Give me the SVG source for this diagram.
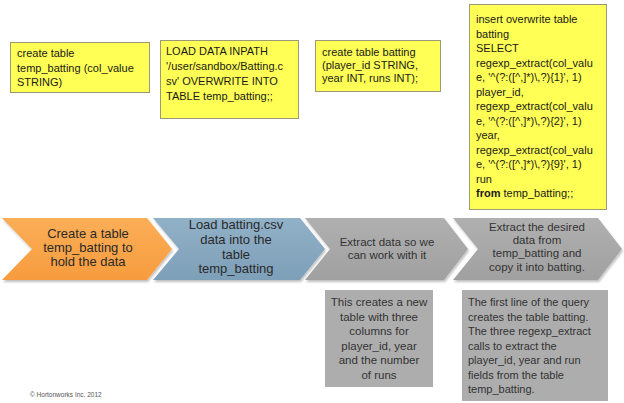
<svg xmlns="http://www.w3.org/2000/svg" width="624" height="403" viewBox="0 0 624 403">
<defs>
<style>
.y{fill:#FFFF55;stroke:#9a9a78;stroke-width:1}
.g{fill:#ADADAD}
.yt{font-family:"Liberation Sans",Arial,sans-serif;font-size:11px;fill:#1a1a1a}
.ct{font-family:"Liberation Sans",Arial,sans-serif;font-size:13px;fill:#2a2a2a;text-anchor:middle}
.gt{font-family:"Liberation Sans",Arial,sans-serif;font-size:11.5px;fill:#333;text-anchor:middle}
.bt{font-family:"Liberation Sans",Arial,sans-serif;font-size:11px;fill:#333}
</style>
<linearGradient id="go" x1="0" y1="0" x2="0" y2="1"><stop offset="0" stop-color="#FBAE58"/><stop offset="1" stop-color="#F79C3E"/></linearGradient>
<linearGradient id="gb" x1="0" y1="0" x2="0" y2="1"><stop offset="0" stop-color="#91B1C8"/><stop offset="1" stop-color="#7E9FB8"/></linearGradient>
<linearGradient id="gg" x1="0" y1="0" x2="0" y2="1"><stop offset="0" stop-color="#B0B0B0"/><stop offset="1" stop-color="#A0A0A0"/></linearGradient>
<filter id="sh" x="-5%" y="-10%" width="115%" height="130%"><feDropShadow dx="1" dy="2" stdDeviation="1.2" flood-color="#000" flood-opacity="0.25"/></filter>
</defs>
<rect width="624" height="403" fill="#fff"/>
<g id="sql1">
<rect class="y" x="10.5" y="42.5" width="139" height="50"/>
<text class="yt" x="17" y="57">create table</text>
<text class="yt" x="17" y="72">temp_batting (col_value</text>
<text class="yt" x="17" y="86">STRING)</text>
</g>
<g id="sql2">
<rect class="y" x="160.5" y="40.5" width="138" height="78"/>
<text class="yt" x="166" y="55">LOAD DATA INPATH</text>
<text class="yt" x="166" y="70">'/user/sandbox/Batting.c</text>
<text class="yt" x="166" y="85">sv' OVERWRITE INTO</text>
<text class="yt" x="166" y="100">TABLE temp_batting;;</text>
</g>
<g id="sql3">
<rect class="y" x="315.5" y="40.5" width="125" height="51"/>
<text class="yt" x="322" y="56">create table batting</text>
<text class="yt" x="322" y="69">(player_id STRING,</text>
<text class="yt" x="322" y="82">year INT, runs INT);</text>
</g>
<g id="sql4">
<rect class="y" x="469.5" y="4.5" width="137" height="205"/>
<text class="yt" x="476" y="23">insert overwrite table</text>
<text class="yt" x="476" y="37.5">batting</text>
<text class="yt" x="476" y="52">SELECT</text>
<text class="yt" x="476" y="66.5">regexp_extract(col_valu</text>
<text class="yt" x="476" y="81">e, '^(?:([^,]*)\,?){1}', 1)</text>
<text class="yt" x="476" y="95.5">player_id,</text>
<text class="yt" x="476" y="110">regexp_extract(col_valu</text>
<text class="yt" x="476" y="124.5">e, '^(?:([^,]*)\,?){2}', 1)</text>
<text class="yt" x="476" y="139">year,</text>
<text class="yt" x="476" y="153.5">regexp_extract(col_valu</text>
<text class="yt" x="476" y="168">e, '^(?:([^,]*)\,?){9}', 1)</text>
<text class="yt" x="476" y="182.5">run</text>
<text class="yt" x="476" y="197"><tspan font-weight="bold">from</tspan> temp_batting;;</text>
</g>
<g id="step1">
<polygon points="2,218 147,218 172,249 147,280 2,280 32,249" fill="url(#go)" filter="url(#sh)"/>
<text class="ct" x="88" y="238">Create a table</text>
<text class="ct" x="88" y="252">temp_batting to</text>
<text class="ct" x="88" y="266">hold the data</text>
</g>
<g id="step2">
<polygon points="153,218 300,218 325,249 300,280 153,280 179,249" fill="url(#gb)" filter="url(#sh)"/>
<text class="ct" x="236" y="229">Load batting.csv</text>
<text class="ct" x="236" y="244">data into the</text>
<text class="ct" x="236" y="259">table</text>
<text class="ct" x="236" y="273">temp_batting</text>
</g>
<g id="step3">
<polygon points="305,218 444,218 468,249 444,280 305,280 330,249" fill="url(#gg)" filter="url(#sh)"/>
<text class="gt" x="387" y="246">Extract data so we</text>
<text class="gt" x="387" y="258.5">can work with it</text>
</g>
<g id="step4">
<polygon points="453,218 598,218 622,249 598,280 453,280 478,249" fill="url(#gg)" filter="url(#sh)"/>
<text class="gt" x="537" y="231" font-size="12">Extract the desired</text>
<text class="gt" x="537" y="244" font-size="12">data from</text>
<text class="gt" x="537" y="257" font-size="12">temp_batting and</text>
<text class="gt" x="537" y="271" font-size="12">copy it into batting.</text>
</g>
<g id="note1">
<rect class="g" x="325" y="290" width="108" height="97"/>
<text class="gt" x="379" y="306" font-size="11">This creates a new</text>
<text class="gt" x="379" y="320.5" font-size="11">table with three</text>
<text class="gt" x="379" y="335" font-size="11">columns for</text>
<text class="gt" x="379" y="349.5" font-size="11">player_id, year</text>
<text class="gt" x="379" y="364" font-size="11">and the number</text>
<text class="gt" x="379" y="378.5" font-size="11">of runs</text>
</g>
<g id="note2">
<rect class="g" x="462" y="290" width="146" height="111"/>
<text class="bt" x="468" y="306">The first line of the query</text>
<text class="bt" x="468" y="320.5">creates the table batting.</text>
<text class="bt" x="468" y="335">The three regexp_extract</text>
<text class="bt" x="468" y="349.5">calls to extract the</text>
<text class="bt" x="468" y="364">player_id, year and run</text>
<text class="bt" x="468" y="378.5">fields from the table</text>
<text class="bt" x="468" y="393">temp_batting.</text>
</g>
<g id="connectors"></g>
<text x="30" y="397" font-family="Liberation Sans,Arial,sans-serif" font-size="6.5" fill="#555">© Hortonworks Inc. 2012</text>
</svg>
